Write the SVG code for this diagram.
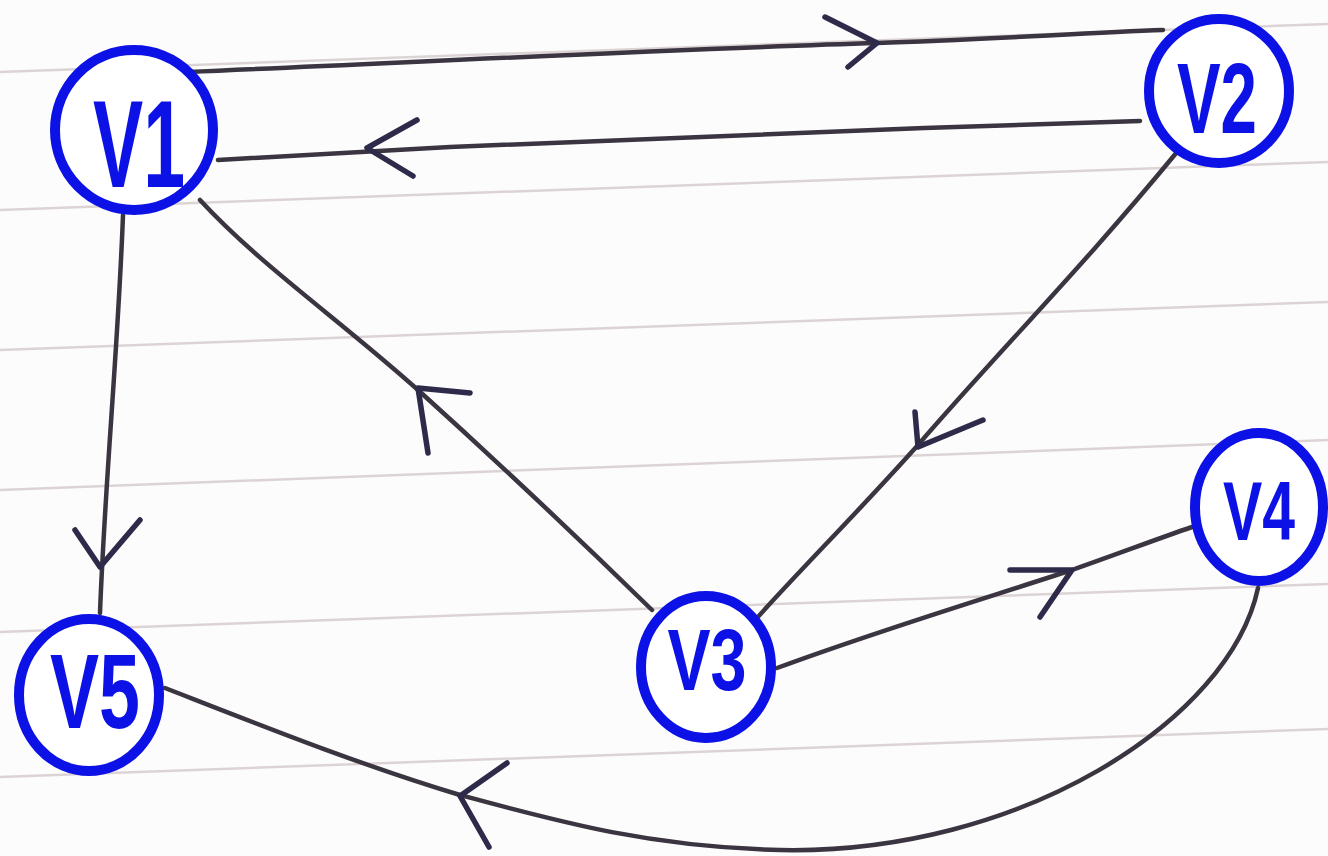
<svg xmlns="http://www.w3.org/2000/svg" width="1328" height="856" viewBox="0 0 1328 856">
<style>
.paper{stroke:#dcd4d4;stroke-width:2.5;fill:none}
.edge{stroke:#3a3540;stroke-width:4.5;fill:none;stroke-linecap:round;stroke-linejoin:round}
.head{stroke:#2e2a4a;stroke-width:5.5;fill:none;stroke-linecap:round;stroke-linejoin:round}
.node ellipse{fill:#ffffff;stroke:#0c12e6;stroke-width:10}
.node text{fill:#0c12e6;font-family:"Liberation Sans",Arial,sans-serif;font-weight:bold;text-anchor:middle}
</style>
<rect x="0" y="0" width="1328" height="856" fill="#fdfcfc"/>
<g id="paper-lines">
<line class="paper" x1="0" y1="72" x2="1328" y2="24"/>
<line class="paper" x1="0" y1="210" x2="1328" y2="162"/>
<line class="paper" x1="0" y1="350" x2="1328" y2="302"/>
<line class="paper" x1="0" y1="490" x2="1328" y2="440"/>
<line class="paper" x1="0" y1="632" x2="1328" y2="584"/>
<line class="paper" x1="0" y1="777" x2="1328" y2="729"/>
</g>
<g id="connectors">
<path class="edge" d="M187,72 C420,62 700,48 877,43 C980,40 1080,33 1163,30"/>
<path class="head" d="M825,17 L877,43 L848,67"/>
<path class="edge" d="M1140,121 C900,128 600,140 450,147 C350,152 280,156 218,160"/>
<path class="head" d="M417,120 L367,148 L413,176"/>
<path class="edge" d="M1177,152 C1080,270 1000,350 918,445 C860,510 800,570 757,618"/>
<path class="head" d="M915,412 L918,447 L983,420"/>
<path class="edge" d="M652,610 C570,530 490,455 418,390 C340,320 260,265 200,200"/>
<path class="head" d="M470,393 L418,388 L428,453"/>
<path class="edge" d="M123,215 C118,350 105,480 100,613"/>
<path class="head" d="M75,530 L100,567 L140,520"/>
<path class="edge" d="M777,668 C880,630 980,600 1072,570 C1120,553 1160,538 1192,527"/>
<path class="head" d="M1010,570 L1072,570 L1040,617"/>
<path class="edge" d="M1258,588 C1230,720 1020,855 780,850 C650,847 560,822 460,795 C360,765 260,725 165,688"/>
<path class="head" d="M507,763 L460,796 L489,847"/>
</g>
<g id="V1" class="node">
<ellipse cx="134" cy="130" rx="79" ry="80"/>
<text x="139" y="187" font-size="125" textLength="92" lengthAdjust="spacingAndGlyphs">V1</text>
</g>
<g id="V2" class="node">
<ellipse cx="1219" cy="91" rx="70" ry="72"/>
<text x="1217" y="133" font-size="100" textLength="80" lengthAdjust="spacingAndGlyphs">V2</text>
</g>
<g id="V3" class="node">
<ellipse cx="706" cy="667" rx="65" ry="71"/>
<text x="707" y="690" font-size="88" textLength="79" lengthAdjust="spacingAndGlyphs">V3</text>
</g>
<g id="V4" class="node">
<ellipse cx="1259" cy="507" rx="64" ry="74"/>
<text x="1259" y="540" font-size="84" textLength="72" lengthAdjust="spacingAndGlyphs">V4</text>
</g>
<g id="V5" class="node">
<ellipse cx="89" cy="695" rx="70" ry="76"/>
<text x="95" y="728" font-size="106" textLength="90" lengthAdjust="spacingAndGlyphs">V5</text>
</g>
</svg>
